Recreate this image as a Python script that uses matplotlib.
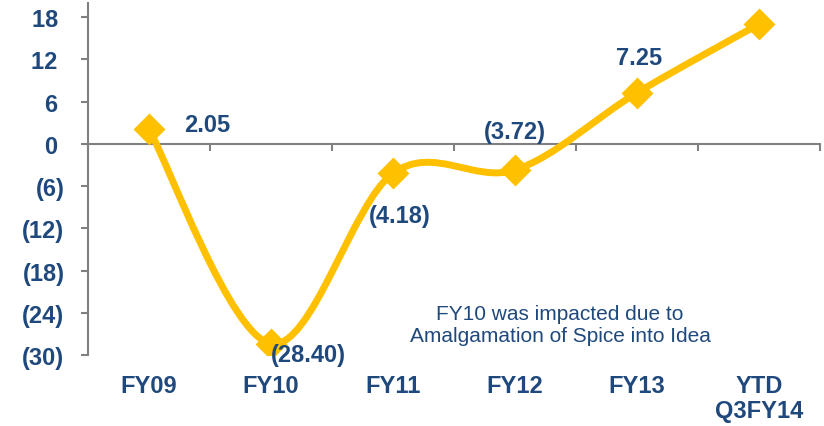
import matplotlib
matplotlib.use("Agg")
import matplotlib.pyplot as plt
from matplotlib.path import Path
from matplotlib.patches import PathPatch
import numpy as np

categories = ["FY09", "FY10", "FY11", "FY12", "FY13", "YTD\nQ3FY14"]
values = [2.05, -28.40, -4.18, -3.72, 7.25, 17.0]
point_labels = ["2.05", "(28.40)", "(4.18)", "(3.72)", "7.25", ""]
label_offsets_px = [(58, 5), (37, -11), (7, -42), (0, 38), (2, 35), (0, 0)]
yticks = [-30, -24, -18, -12, -6, 0, 6, 12, 18]
note = "FY10 was impacted due to\nAmalgamation of Spice into Idea"

TXT = "#1F497D"
GOLD = "#FFC000"
GREY = "#808080"
plt.rcParams['font.family'] = ['Liberation Sans', 'DejaVu Sans']

fig = plt.figure(figsize=(8.24, 4.27), dpi=100)
ax = fig.add_axes([88/824, (427-356)/427, 732/824, 352/427])
ax.set_xlim(-0.5, len(categories) - 0.5)
ax.set_ylim(-30, 20)

# smoothed line (Catmull-Rom style Bezier, like Excel smoothing)
x = np.arange(len(values), dtype=float)
y = np.array(values, dtype=float)
P = np.column_stack([x, y])
verts = [tuple(P[0])]
codes = [Path.MOVETO]
n = len(P)
for i in range(n - 1):
    p0 = P[i - 1] if i > 0 else P[i]
    p1 = P[i]
    p2 = P[i + 1]
    p3 = P[i + 2] if i + 2 < n else P[i + 1]
    c1 = p1 + (p2 - p0) / 6.0
    c2 = p2 - (p3 - p1) / 6.0
    verts += [tuple(c1), tuple(c2), tuple(p2)]
    codes += [Path.CURVE4] * 3
patch = PathPatch(Path(verts, codes), facecolor='none', edgecolor=GOLD,
                  lw=5, capstyle='round', joinstyle='round', zorder=3)
ax.add_patch(patch)
ax.plot(x, y, linestyle='none', marker='D', markersize=14, color=GOLD,
        markeredgecolor=GOLD, markeredgewidth=2, zorder=4)

# data labels
for xi, yi, lab, off in zip(x, y, point_labels, label_offsets_px):
    if lab:
        ax.annotate(lab, xy=(xi, yi), xytext=off, textcoords='offset pixels',
                    ha='center', va='center', fontsize=17, fontweight='bold',
                    color=TXT, zorder=5)

# spines
for s in ['top', 'right']:
    ax.spines[s].set_visible(False)
ax.spines['bottom'].set_position(('data', 0))
ax.spines['bottom'].set_color(GREY)
ax.spines['bottom'].set_linewidth(1.5)
ax.spines['left'].set_color(GREY)
ax.spines['left'].set_linewidth(1.5)

ax.set_xticks(np.arange(-0.5, len(categories), 1.0))
ax.set_xticklabels([])
ax.tick_params(axis='x', direction='out', length=5, width=1.5, color=GREY)

ax.set_yticks(yticks)
ax.set_yticklabels([f"({abs(v)})" if v < 0 else f"{v} " for v in yticks])
ax.tick_params(axis='y', direction='out', length=5, width=1.5, color=GREY,
               labelsize=17, labelcolor=TXT, pad=12)
for t in ax.get_yticklabels():
    t.set_fontweight('bold')

# category labels at the bottom
for i, c in enumerate(categories):
    ax.annotate(c, xy=(i, 0), xycoords=('data', 'axes fraction'),
                xytext=(0, -19), textcoords='offset pixels', ha='center',
                va='top', fontsize=17, fontweight='bold', color=TXT,
                linespacing=1.1, annotation_clip=False)

ax.text((560-88)/732, (356-325.5)/352, note, transform=ax.transAxes,
        ha='center', va='center', fontsize=15, color=TXT, linespacing=1.2)

fig.savefig("out.png", dpi=100)
